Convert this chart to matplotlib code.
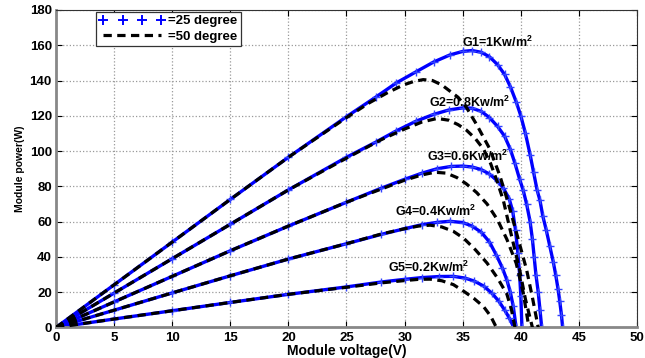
import matplotlib
matplotlib.use("Agg")
import matplotlib.pyplot as plt
from matplotlib.lines import Line2D

plt.rcParams['font.family'] = ['Liberation Sans', 'DejaVu Sans']
plt.rcParams['font.weight'] = 'bold'
plt.rcParams['mathtext.fontset'] = 'custom'
plt.rcParams['mathtext.rm'] = 'Liberation Sans:bold'
plt.rcParams['mathtext.bf'] = 'Liberation Sans:bold'

# ---- data: 25 degree curves (V, P) ----
g1_25_v = [0, 5, 10, 15, 20, 25, 27.5, 29.3, 31, 32.5, 33.9, 35, 35.8, 36.6, 37.3, 38, 38.6, 39.1, 39.6, 40.0,
           40.4, 40.8, 41.1, 41.4, 41.65, 41.9, 42.2, 42.5, 42.8, 43.0, 43.2, 43.35, 43.5, 43.6]
g1_25_p = [0, 24.2, 48.4, 72.6, 96.5, 119.5, 130.5, 138.7, 145, 150.5, 154.5, 156.5, 157, 156, 153.5, 149, 143.5, 136.5, 128, 120,
           110, 98, 88, 78, 72, 63, 55, 46, 37, 30, 22, 15, 7, 0]
g2_25_v = [0, 5, 10, 15, 20, 25, 27.5, 29.3, 31, 32.5, 33.8, 35, 35.8, 36.6, 37.3, 38, 38.6, 39.1, 39.5, 39.9,
           40.2, 40.5, 40.8, 41.0, 41.15, 41.3, 41.5, 41.65, 41.8]
g2_25_p = [0, 19.5, 39, 58.5, 78, 96.5, 105, 111.5, 117, 120.8, 123.3, 124.5, 124.3, 122.5, 119, 114, 108.5, 101, 93, 84,
           78, 70, 60, 50, 40, 30, 20, 10, 0]
g3_25_v = [0, 5, 10, 15, 20, 25, 28, 30, 31.5, 32.8, 34, 35, 35.8, 36.6, 37.3, 38, 38.5, 39, 39.3, 39.55, 39.75, 39.9, 40.0, 40.1]
g3_25_p = [0, 14.5, 29, 43.5, 57.5, 71, 79, 84, 87.5, 90, 91.3, 91.5, 91, 89.5, 87, 83, 79, 73, 66, 55, 42, 30, 18, 0]
g4_25_v = [0, 5, 10, 15, 20, 25, 28, 30, 31.5, 32.8, 33.9, 35, 35.8, 36.6, 37.3, 37.9, 38.4, 38.8, 39.1, 39.35, 39.6]
g4_25_p = [0, 9.8, 19.6, 29.3, 38.8, 47.5, 52.8, 56, 58.3, 59.6, 60.2, 59.5, 57.5, 54, 48.5, 41, 34, 27, 20, 12, 0]
g5_25_v = [0, 5, 10, 15, 20, 25, 28, 30, 31.5, 33, 34.2, 35.2, 36, 36.8, 37.5, 38.1, 38.6, 39.0, 39.4]
g5_25_p = [0, 4.8, 9.5, 14.2, 18.8, 23, 25.8, 27.3, 28.3, 28.9, 29, 28, 26.3, 23.5, 19.5, 15, 10, 5.5, 0]

# ---- data: 50 degree curves (V, P) ----
g1_50_v = [0, 5, 10, 15, 20, 25, 27, 28.5, 29.9, 30.8, 31.6, 32.4, 33.2, 33.9, 34.6, 35.3, 36.2, 37.35, 38.2, 38.9, 39.7, 40.5, 41.0, 41.5]
g1_50_p = [0, 24.2, 48.4, 72.6, 96.5, 119, 127.5, 133, 137.5, 139.5, 140.5, 140, 137.5, 134, 130.5, 125, 115, 101, 86, 71, 52, 32.7, 17, 0]
g2_50_v = [0, 5, 10, 15, 20, 25, 28, 30, 31.5, 32.8, 33.8, 34.6, 35.3, 36.1, 36.8, 37.4, 37.9, 38.5, 39.2, 39.9, 40.4, 41.0]
g2_50_p = [0, 19.5, 39, 58.5, 78, 96, 106.5, 112.5, 116.5, 118.5, 117.5, 115, 112, 107, 101, 93, 84, 72, 52, 32.7, 16, 0]
g3_50_v = [0, 5, 10, 15, 20, 25, 28, 30, 31.5, 32.6, 33.6, 34.5, 35.3, 36.2, 37.1, 38, 38.8, 39.6, 40.2, 40.7]
g3_50_p = [0, 14.5, 29, 43.5, 57.5, 71, 78.5, 83.5, 86.5, 88, 87.5, 85, 81.5, 76.5, 70, 61, 50, 36.5, 20, 0]
g4_50_v = [0, 5, 10, 15, 20, 25, 28, 30, 31.2, 32.2, 33.2, 34.2, 35.1, 36.1, 37.1, 38, 38.8, 39.2, 39.5]
g4_50_p = [0, 9.8, 19.6, 29.3, 38.8, 47.5, 53, 56, 57.5, 58, 57, 54.5, 50.5, 44, 36.5, 28, 19, 10, 0]
g5_50_v = [0, 5, 10, 15, 20, 25, 28, 30, 31.2, 32.2, 33.2, 34.2, 35.1, 36, 36.8, 37.4, 37.9]
g5_50_p = [0, 4.8, 9.5, 14.2, 18.8, 22.8, 25.3, 26.6, 27.3, 27.4, 26.5, 24.3, 20.5, 16.3, 11.8, 6.5, 0]

labels = ['G1=1Kw/m$^{2}$', 'G2=0.8Kw/m$^{2}$', 'G3=0.6Kw/m$^{2}$', 'G4=0.4Kw/m$^{2}$', 'G5=0.2Kw/m$^{2}$']
label_v = [38.0, 35.6, 35.4, 32.7, 32.1]
label_p = [161.6, 127.4, 97.0, 65.8, 34.2]
x_ticks = [0, 5, 10, 15, 20, 25, 30, 35, 40, 45, 50]
y_ticks = [0, 20, 40, 60, 80, 100, 120, 140, 160, 180]

curves_25 = [(g1_25_v, g1_25_p), (g2_25_v, g2_25_p), (g3_25_v, g3_25_p), (g4_25_v, g4_25_p), (g5_25_v, g5_25_p)]
curves_50 = [(g1_50_v, g1_50_p), (g2_50_v, g2_50_p), (g3_50_v, g3_50_p), (g4_50_v, g4_50_p), (g5_50_v, g5_50_p)]

fig = plt.figure(figsize=(6.45, 3.58), dpi=100)
ax = fig.add_axes([0.0868, 0.0852, 0.9008, 0.887])

for v, p in curves_25:
    ax.plot(v, p, color='#0000ff', lw=2.4, zorder=2)
    ax.plot(v, p, color='#3344ff', ls='none', marker='+', ms=6, mew=1.0, zorder=2)
for v, p in curves_50:
    ax.plot(v, p, color='black', lw=2.3, ls=(0, (2.6, 1.7)), zorder=3)

for t, v, p in zip(labels, label_v, label_p):
    ax.text(v, p, t, ha='center', va='center', fontsize=9, fontweight='bold', zorder=4)

ax.set_xlim(0, 50)
ax.set_ylim(0, 180)
ax.set_xticks(x_ticks)
ax.set_yticks(y_ticks)
ax.tick_params(direction='in', length=4, width=0.8, labelsize=9.5, pad=3, top=True, right=True)
for lab in ax.get_xticklabels() + ax.get_yticklabels():
    lab.set_fontweight('bold')
ax.grid(True, color='#999999', ls=':', lw=0.9)

for s in ['left', 'bottom']:
    ax.spines[s].set_color('#888888')
    ax.spines[s].set_linewidth(2)
for s in ['top', 'right']:
    ax.spines[s].set_color('#333333')
    ax.spines[s].set_linewidth(0.8)

ax.set_xlabel('Module voltage(V)', fontsize=10, fontweight='bold', labelpad=0)
ax.set_ylabel('Module power(W)', fontsize=7.5, fontweight='bold', labelpad=3)

h1 = Line2D([], [], color='#0000ff', ls='none', marker='+', ms=7, mew=1.4)
h2 = Line2D([], [], color='black', lw=2.3, ls=(0, (2.6, 1.7)))
leg = ax.legend([h1, h2], ['=25 degree', '=50 degree'], loc='upper left',
                bbox_to_anchor=(0.069, 0.994), fontsize=9.5, frameon=True, fancybox=False,
                edgecolor='#333333', framealpha=1, borderpad=0.25, labelspacing=0.25,
                handlelength=5.0, handletextpad=0.2, numpoints=4, borderaxespad=0)
leg.get_frame().set_linewidth(0.9)
for t in leg.get_texts():
    t.set_fontweight('bold')

fig.savefig('out.png', dpi=100)
